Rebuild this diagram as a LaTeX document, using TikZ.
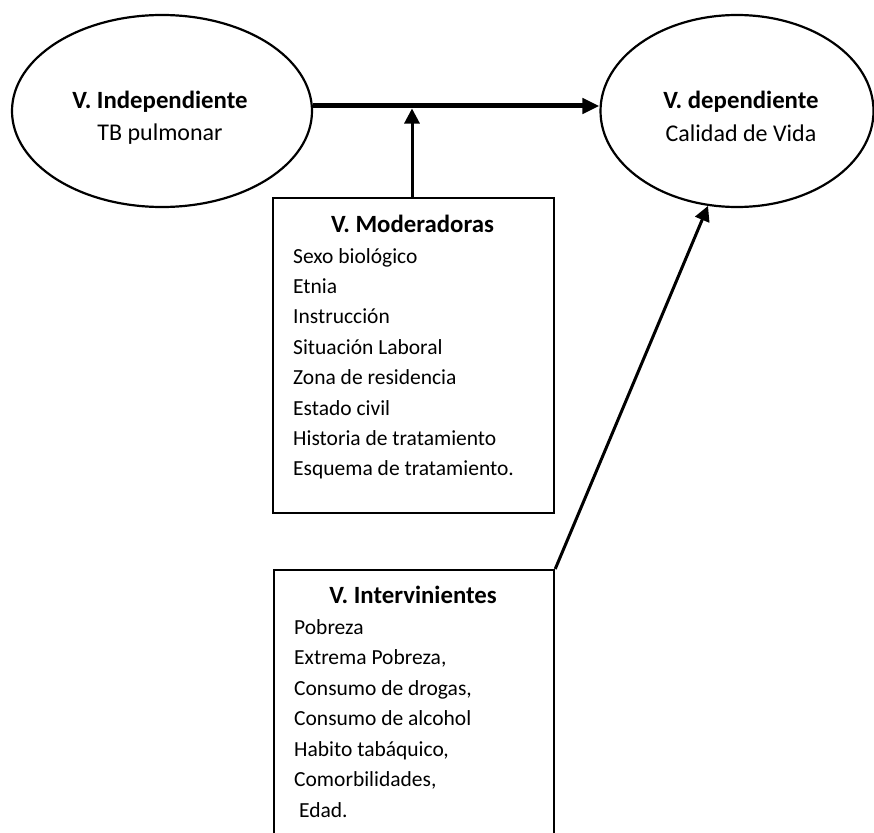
\documentclass[tikz,border=0pt]{standalone}
\usepackage{fontspec}
\setmainfont{Carlito}
\usetikzlibrary{shapes.geometric,arrows.meta}
\tikzset{
  ell/.style={draw, line width=2.2pt, ellipse, inner sep=0pt},
  vbox/.style={draw, line width=2.2pt, rectangle, anchor=north west, inner sep=0pt},
  ttl/.style={anchor=base, inner sep=0pt, font=\fontsize{24.8}{29}\selectfont\bfseries},
  sub/.style={anchor=base, inner sep=0pt, font=\fontsize{24}{29}\selectfont},
  item/.style={anchor=base west, inner sep=0pt, font=\fontsize{21.5}{26}\selectfont},
  bigarrow/.style={line width=5pt, -{Triangle[length=17pt,width=15pt]}},
  arrow/.style={line width=3pt, -{Triangle[length=15pt,width=15pt]}}
}
\begin{document}
\begin{tikzpicture}[x=1pt,y=-1pt]
\useasboundingbox (0,0) rectangle (874,832);
\clip (0,0) rectangle (874,832);
% ellipses
\node[ell, minimum width=300pt, minimum height=192pt] (indep) at (162,111) {};
\node[ell, minimum width=273pt, minimum height=192pt] (dep) at (737,111) {};
\node[ttl] (indepT) at (160,108) {V. Independiente};
\node[sub] (indepS) at (160,140) {TB pulmonar};
\node[ttl] (depT) at (741,108) {V. dependiente};
\node[sub] (depS) at (741,141) {Calidad de Vida};
% boxes
\node[vbox, minimum width=281pt, minimum height=315pt] (mod) at (272,197) {};
\node[vbox, minimum width=280pt, minimum height=300pt] (int) at (273,569) {};
\node[ttl] (modT) at (412.5,232.7) {V. Moderadoras};
\foreach \t [count=\i from 0] in {Sexo biológico,Etnia,Instrucción,Situación Laboral,Zona de residencia,Estado civil,Historia de tratamiento,Esquema de tratamiento.}
  \node[item] (m\i) at (293,263+30.4*\i) {\t};
\node[ttl] (intT) at (413,603) {V. Intervinientes};
\foreach \t [count=\i from 0] in {Pobreza,{Extrema Pobreza,},{Consumo de drogas,},Consumo de alcohol,{Habito tabáquico,},{Comorbilidades,},{\ Edad.}}
  \node[item] (n\i) at (294,634+30.5*\i) {\t};
% connectors
\coordinate (j) at (412,108.5);
\draw[bigarrow] ([yshift=5pt]indep.east) -- ([yshift=5pt]dep.west);
\draw[arrow] (mod.north -| j) -- (j);
\draw[arrow] (int.north east) -- (dep.-107);
\end{tikzpicture}
\end{document}
